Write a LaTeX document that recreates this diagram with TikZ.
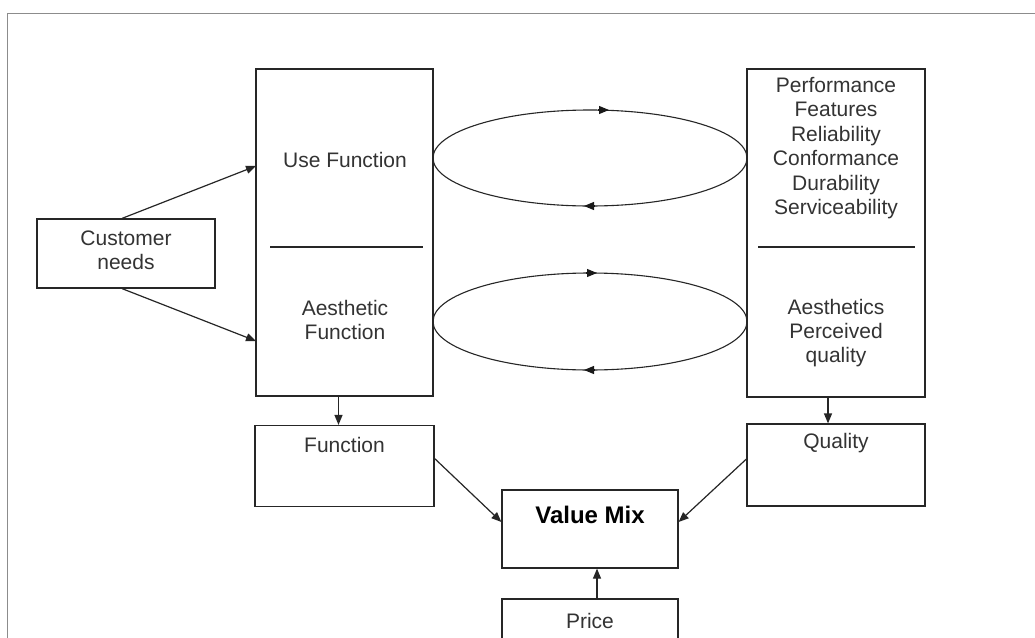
\documentclass[tikz,border=0pt]{standalone}
\usepackage{fontspec}
\setmainfont{Liberation Sans}
\usetikzlibrary{arrows.meta}
\begin{document}
\begin{tikzpicture}[x=1pt,y=-1pt,
 box/.style={draw=black!85,line width=1.2pt,rectangle,inner sep=0pt},
 lbl/.style={font=\fontsize{21}{24.4}\selectfont,text=black!80,align=center,inner sep=0pt},
 arr/.style={draw=black!85,line width=1.2pt,-{Triangle[length=10pt,width=8pt]}},
 loopline/.style={draw=black!85,line width=1.1pt},
 looptip/.style={draw=black!90,line width=1.1pt,-{Triangle[length=10pt,width=8pt]}}]
\useasboundingbox (0,0) rectangle (1035,637);
\clip (0,0) rectangle (1035,637);
\fill[white] (0,0) rectangle (1035,637);
\draw[black!45,line width=1pt] (7,640) -- (7,13) -- (1040,13);
% boxes
\node[box,minimum width=177pt,minimum height=327pt] (lbox) at (344.5,232.5) {};
\node[box,minimum width=178pt,minimum height=328pt] (rbox) at (836,233) {};
\node[box,minimum width=178pt,minimum height=69pt] (cust) at (126,253.5) {};
\node[box,minimum width=179pt,minimum height=81pt] (func) at (344.5,466) {};
\node[box,minimum width=178pt,minimum height=82pt] (qual) at (836,465) {};
\node[box,minimum width=176pt,minimum height=78pt] (vmix) at (590,529) {};
\node[box,minimum width=176pt,minimum height=70pt] (price) at (590,634) {};
% dividers
\draw[loopline] (270,247) -- (423,247);
\draw[loopline] (758,247) -- (915,247);
% texts
\node[lbl] (usefn) at (345,160) {Use Function};
\node[lbl] (aesfn) at (345,320) {Aesthetic\\Function};
\node[lbl] (perf) at (836,148) {Performance\\Features\\Reliability\\Conformance\\Durability\\Serviceability};
\node[lbl] (aes) at (836,333) {Aesthetics\\Perceived\\quality};
\node[lbl] (custtxt) at (126,250.5) {Customer\\needs};
\node[lbl] (functxt) at (344.5,445) {Function};
\node[lbl] (qualtxt) at (836,443) {Quality};
\node[lbl,font=\bfseries\fontsize{24}{28}\selectfont,text=black] (vmixtxt) at (590,515) {Value Mix};
\node[lbl] (pricetxt) at (590,621) {Price};
% connectors
\coordinate (u1) at (256,166);
\coordinate (a1) at (256,341);
\draw[arr] ([xshift=-4pt]cust.north) -- (u1);
\draw[arr] ([xshift=-4pt]cust.south) -- (a1);
\draw[arr] ([xshift=-6pt]lbox.south) -- ([xshift=-6pt]func.north);
\draw[arr] ([xshift=-8pt]rbox.south) -- ([xshift=-8pt]qual.north);
\draw[arr] ([yshift=7.5pt]func.east) -- ([yshift=7pt]vmix.west);
\draw[arr] ([yshift=6pt]qual.west) -- ([yshift=7pt]vmix.east);
\draw[arr] ([xshift=7pt]price.north) -- ([xshift=7pt]vmix.south);
% loops between the boxes
\coordinate (e1) at (590,158);
\coordinate (e2) at (590,321.5);
\draw[loopline] (e1) ellipse [x radius=157, y radius=48];
\draw[loopline] (e2) ellipse [x radius=157, y radius=48.5];
\draw[looptip] (598,110) -- (609,110);
\draw[looptip] (595,206) -- (584,206);
\draw[looptip] (586,273) -- (597,273);
\draw[looptip] (595,370) -- (584,370);
\end{tikzpicture}
\end{document}
